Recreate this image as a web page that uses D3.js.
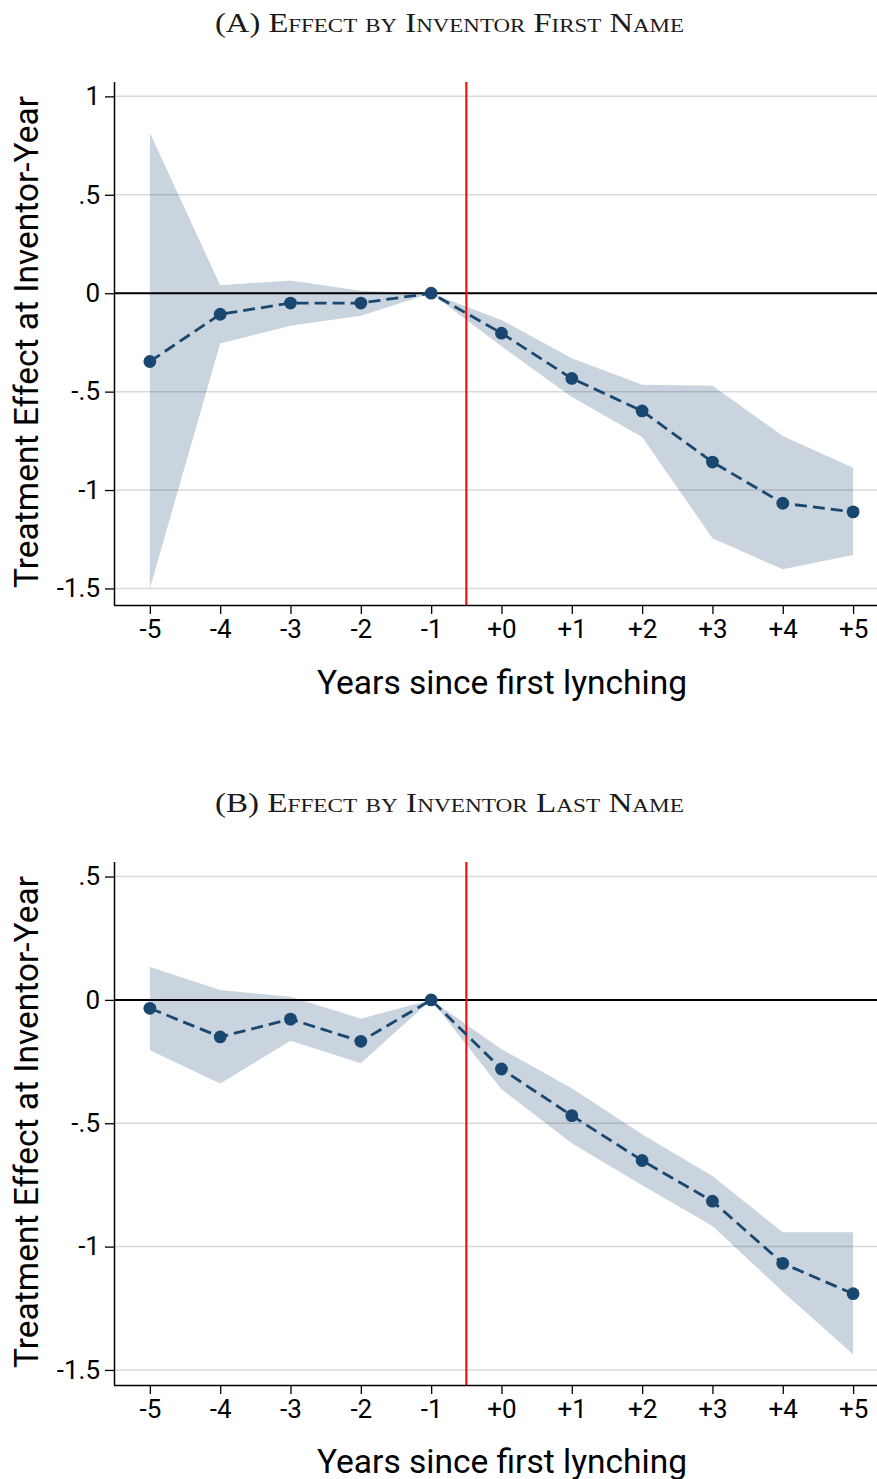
<!DOCTYPE html>
<html><head><meta charset="utf-8">
<script src="https://cdn.jsdelivr.net/npm/d3@7"></script>
<style>
html,body{margin:0;padding:0;background:#fff;}
svg{display:block;}
.tick text{font-family:Roboto, sans-serif;}
</style></head>
<body>
<script>
// ---- data ----
const years = [-5,-4,-3,-2,-1,0,1,2,3,4,5];
const xTickLabels = ["-5","-4","-3","-2","-1","+0","+1","+2","+3","+4","+5"];
const titleA = "(A) Effect by Inventor First Name";
const titleB = "(B) Effect by Inventor Last Name";
const xLabel = "Years since first lynching";
const yLabel = "Treatment Effect at Inventor-Year";

const coefA  = [-0.347,-0.107,-0.050,-0.050,0,-0.203,-0.433,-0.598,-0.858,-1.067,-1.111];
const upperA = [ 0.815, 0.040, 0.065, 0.013,0,-0.136,-0.330,-0.465,-0.470,-0.725,-0.887];
const lowerA = [-1.500,-0.256,-0.165,-0.115,0,-0.270,-0.527,-0.730,-1.245,-1.403,-1.330];
const yTicksA = [1,0.5,0,-0.5,-1,-1.5];
const yTickLabelsA = ["1",".5","0","-.5","-1","-1.5"];

const coefB  = [-0.034,-0.150,-0.078,-0.168,0,-0.280,-0.469,-0.651,-0.816,-1.068,-1.191];
const upperB = [ 0.133, 0.040, 0.013,-0.076,0,-0.200,-0.358,-0.545,-0.714,-0.942,-0.942];
const lowerB = [-0.204,-0.339,-0.166,-0.257,0,-0.362,-0.581,-0.751,-0.916,-1.183,-1.436];
const yTicksB = [0.5,0,-0.5,-1,-1.5];
const yTickLabelsB = [".5","0","-.5","-1","-1.5"];

const W = 877, H = 1479;
const svg = d3.select("body").append("svg").attr("width",W).attr("height",H);

const navy = "#1a476f";

function panel(cfg){
  const {top,bottom,ydom,coef,upper,lower,yTicks,yTickLabels,title,titleY,xLabelY,yLabelCy} = cfg;
  const left = 114, right = 877;
  const x = d3.scaleLinear().domain([-5.51,5.34]).range([left,right]);
  const y = d3.scaleLinear().domain(ydom).range([bottom,top]);
  const g = svg.append("g");

  // gridlines
  g.selectAll("line.grid").data(yTicks).join("line")
    .attr("x1",left).attr("x2",right)
    .attr("y1",d=>y(d)).attr("y2",d=>y(d))
    .attr("stroke","#d9d9d9").attr("stroke-width",1.5);

  // CI band
  const rows = years.map((yr,i)=>({yr,c:coef[i],u:upper[i],l:lower[i]}));
  g.append("path").datum(rows)
    .attr("d", d3.area().x(d=>x(d.yr)).y0(d=>y(d.l)).y1(d=>y(d.u)))
    .attr("fill",navy).attr("fill-opacity",0.23);

  // zero line
  g.append("line").attr("x1",left).attr("x2",right)
    .attr("y1",y(0)).attr("y2",y(0)).attr("stroke","#000").attr("stroke-width",2);
  // red vertical
  g.append("line").attr("x1",x(-0.5)).attr("x2",x(-0.5))
    .attr("y1",top).attr("y2",bottom).attr("stroke","#ff0000").attr("stroke-width",2);

  // dashed line
  g.append("path").datum(rows)
    .attr("d", d3.line().x(d=>x(d.yr)).y(d=>y(d.c)))
    .attr("fill","none").attr("stroke",navy).attr("stroke-width",2.8)
    .attr("stroke-dasharray","12,6");
  g.selectAll("circle").data(rows).join("circle")
    .attr("cx",d=>x(d.yr)).attr("cy",d=>y(d.c)).attr("r",6.4).attr("fill",navy);

  // axes
  const xa = g.append("g").attr("transform",`translate(0,${bottom})`)
    .call(d3.axisBottom(x).tickValues(years).tickFormat((d,i)=>xTickLabels[i]).tickSize(9).tickPadding(6).tickSizeOuter(0));
  xa.select(".domain").attr("stroke","#000").attr("stroke-width",1.5)
    .attr("d",`M${left},0.5H${right}`);
  xa.selectAll(".tick line").attr("stroke","#000").attr("stroke-width",1.3);
  xa.selectAll(".tick text").attr("font-size",26).attr("fill","#000");

  const ya = g.append("g").attr("transform",`translate(${left},0)`)
    .call(d3.axisLeft(y).tickValues(yTicks).tickFormat((d,i)=>yTickLabels[i]).tickSize(9).tickPadding(5).tickSizeOuter(0));
  ya.select(".domain").attr("stroke","#000").attr("stroke-width",1.5)
    .attr("d",`M0.5,${top}V${bottom}`);
  ya.selectAll(".tick line").attr("stroke","#000").attr("stroke-width",1.3);
  ya.selectAll(".tick text").attr("font-size",26).attr("fill","#000");

  // titles
  svg.append("text").attr("x",449.5).attr("y",titleY).attr("text-anchor","middle")
    .attr("font-family","'Liberation Serif', 'DejaVu Serif', serif").attr("font-size",27)
    .attr("textLength",469).attr("lengthAdjust","spacingAndGlyphs")
    .style("font-variant","small-caps").attr("fill","#1a1a1a").text(title);
  svg.append("text").attr("x",502).attr("y",xLabelY).attr("text-anchor","middle")
    .attr("font-family","Roboto, sans-serif").attr("font-size",33.5).attr("fill","#000").text(xLabel);
  svg.append("text").attr("transform",`translate(38,${yLabelCy}) rotate(-90)`).attr("text-anchor","middle")
    .attr("font-family","Roboto, sans-serif").attr("font-size",33.5).attr("fill","#000").text(yLabel);
}

panel({top:82,bottom:605,ydom:[-1.584,1.073],coef:coefA,upper:upperA,lower:lowerA,
  yTicks:yTicksA,yTickLabels:yTickLabelsA,title:titleA,titleY:32,xLabelY:694,yLabelCy:342});
panel({top:862,bottom:1385,ydom:[-1.561,0.559],coef:coefB,upper:upperB,lower:lowerB,
  yTicks:yTicksB,yTickLabels:yTickLabelsB,title:titleB,titleY:812,xLabelY:1473,yLabelCy:1122});
</script>
</body></html>
